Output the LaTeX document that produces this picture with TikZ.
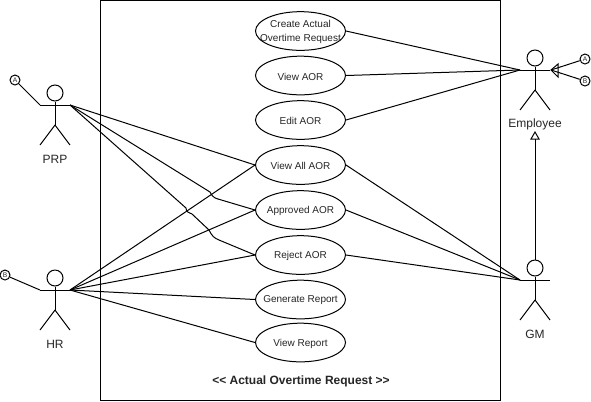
\documentclass[tikz,border=0pt]{standalone}
\usepackage{fontspec}
\setmainfont{Liberation Sans}
\usetikzlibrary{shapes.geometric}
\tikzset{
  x=0.75pt,y=-0.75pt,
  line/.style={draw=black,line width=0.75pt,line join=round},
  usecase/.style={draw=black,fill=white,line width=0.75pt,ellipse,minimum width=67.5pt,minimum height=29pt,inner sep=0pt},
  uctext/.style={inner sep=0pt,align=center,font=\fontsize{7.5pt}{10.5pt}\selectfont,text=black!85,yshift=-0.75pt},
  head/.style={draw=black,fill=white,line width=0.75pt,circle,minimum size=12pt,inner sep=0pt},
  tag/.style={draw=black,line width=0.75pt,circle,minimum size=7.5pt,inner sep=0pt,font=\fontsize{5pt}{5pt}\selectfont,text=black!85},
  actorlabel/.style={font=\fontsize{9pt}{11pt}\selectfont,text=black!85},
  gen/.style={draw=black,fill=none,line width=0.75pt}
}
\begin{document}
\begin{tikzpicture}
\useasboundingbox (0,0) rectangle (591,401);
\fill[white] (0,0) rectangle (591,401);
\node[draw=black,line width=0.75pt,minimum width=300pt,minimum height=300pt,inner sep=0pt,anchor=north west] (sys) at (100,0) {};
\node[font=\bfseries\fontsize{9pt}{11pt}\selectfont,text=black!85] (title) at (301,381) {<{}< Actual Overtime Request >{}>};

\node[usecase,label={[uctext]center:Create Actual\\Overtime Request}] (uc1) at (300.5,31) {};
\node[usecase,label={[uctext]center:View AOR}] (uc2) at (300.5,75.5) {};
\node[usecase,label={[uctext]center:Edit AOR}] (uc3) at (300.5,120) {};
\node[usecase,label={[uctext]center:View All AOR}] (uc4) at (300.5,165) {};
\node[usecase,label={[uctext]center:Approved AOR}] (uc5) at (300.5,210) {};
\node[usecase,label={[uctext]center:Reject AOR}] (uc6) at (300.5,255) {};
\node[usecase,label={[uctext]center:Generate Report}] (uc7) at (300.5,299.5) {};
\node[usecase,label={[uctext]center:View Report}] (uc8) at (300.5,342.5) {};

\foreach \n/\cx/\hy/\lab in {prp/55/93/PRP,hr/55/278/HR,emp/535/58/Employee,gm/535/268/GM}{
  \node[head] (\n head) at (\cx,\hy) {};
  \coordinate (\n neck) at (\cx,\hy+12);
  \coordinate (\n armL) at (\cx-15,\hy+12);
  \coordinate (\n armR) at (\cx+15,\hy+12);
  \coordinate (\n hip) at (\cx,\hy+32);
  \coordinate (\n legL) at (\cx-15,\hy+52);
  \coordinate (\n legR) at (\cx+15,\hy+52);
  \draw[line] (\n head.south) -- (\n hip);
  \draw[line] (\n armL) -- (\n armR);
  \draw[line] (\n legL) -- (\n hip) -- (\n legR);
  \node[actorlabel] (\n label) at (\cx,\hy+66) {\lab};
}

\node[tag] (tagA1) at (15,80) {A};
\node[tag] (tagB1) at (5,275) {B};
\node[tag] (tagA2) at (585,59) {A};
\node[tag] (tagB2) at (585,81) {B};
\draw[line] (tagA1) -- (prparmL);
\draw[line] (tagB1) -- (hrarmL);

\coordinate (tipE) at (551,70);
\coordinate (tipG) at (535,132);
\draw[gen] (558,64) -- (tipE) -- (558,77) -- cycle;
\draw[gen] (531,139) -- (tipG) -- (539,139) -- cycle;
\draw[line] (tagA2) -- (tipE);
\draw[line] (tagB2) -- (tipE);
\draw[line] (gmhead.north) -- (535,139);

\draw[line] (emparmL) -- (uc1.east);
\draw[line] (emparmL) -- (uc2.east);
\draw[line] (emparmL) -- (uc3.east);
\draw[line] (gmarmL) -- (uc4.east);
\draw[line] (gmarmL) -- (uc5.east);
\draw[line] (gmarmL) -- (uc6.east);
\draw[line] (hrarmR) -- (uc4.west);
\draw[line] (hrarmR) -- (uc5.west);
\draw[line] (hrarmR) -- (uc6.west);
\draw[line] (hrarmR) -- (uc7.west);
\draw[line] (hrarmR) -- (uc8.west);
\draw[line] (prparmR) -- (uc4.west);
\draw[line] (prparmR) -- (210,192) .. controls (212,196) and (214,198) .. (218,199) -- (uc5.west);
\draw[line] (prparmR) -- (186,208) .. controls (186,212) and (189,213) .. (192,214) -- (209,230) .. controls (212,236) and (214,238) .. (219,240) -- (uc6.west);
\end{tikzpicture}
\end{document}
